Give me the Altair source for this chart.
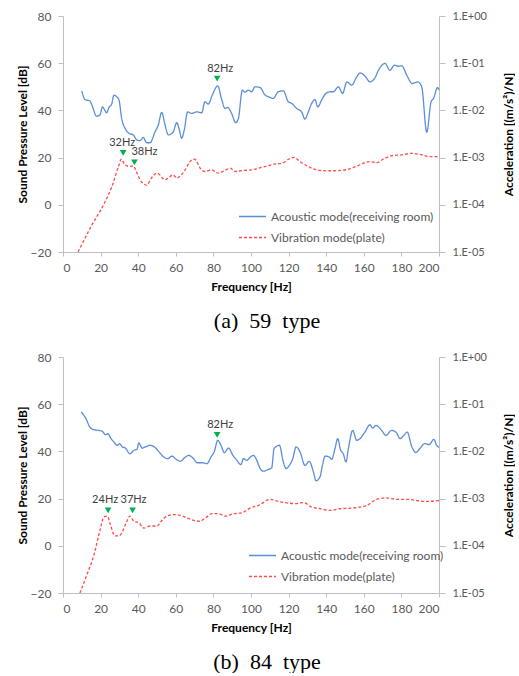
import altair as alt
import pandas as pd

# ---------------- (a) 59 type ----------------
a_ac_freq = [10, 11.7, 14.3, 15.5, 17.8, 19.6, 21, 22.3, 23.2, 24.5, 25.9, 27.1, 28.6, 29.8,
             31.2, 33, 35.1, 37.4, 39.2, 41, 42.7, 44.5, 46.3, 49, 50.7, 52.5, 54.3, 56, 58.7,
             60.5, 61.7, 63.1, 64.5, 66.3, 68.4, 71.1, 73.8, 75.5, 77.3, 79.4, 82.3, 84.4, 86.2,
             87.6, 89.7, 91.9, 93.3, 95.4, 96.8, 98.6, 100.4, 102.1, 104.8, 107.5, 109.2, 111.8,
             114.5, 117.2, 119.8, 121.6, 124.3, 126.9, 128.7, 130.5, 132.3, 134, 135.5, 137.6,
             139.4, 142.1, 143.8, 146.5, 148.7, 151, 153.6, 156.2, 158, 160.7, 163.3, 166, 167.8,
             171.3, 173.9, 176.3, 178.4, 180.2, 182.8, 185.8, 188.7, 190.8, 193.5, 195.8, 197.1,
             199.2, 200]
a_ac_spl = [48.3, 44.6, 44, 42, 37.6, 38, 41.5, 40, 39, 41.3, 42.7, 46.5, 45.8, 44.4,
            36.6, 32.4, 30.3, 29.6, 27.5, 27.2, 28.5, 26.3, 26.3, 31, 33.8, 39.2, 33.8, 29.6, 31,
            34.8, 32.4, 28.2, 31.7, 39.4, 38.7, 39.4, 39, 43.7, 42.7, 46.5, 50.4, 44.6, 40.8,
            41.3, 38.7, 34.8, 36.6, 48.6, 47.7, 48.6, 47.9, 50, 49.7, 46.5, 45.8, 45.1,
            47.9, 48.3, 43.7, 43, 40.8, 39.4, 36.3, 39.4, 43, 44.6, 41.5, 44.4,
            46.8, 47.9, 47.9, 50, 47.2, 52.1, 50.7, 54.2, 55.9, 54.5, 52.1, 53.9, 57,
            59.9, 57, 59.2, 58.7, 58.9, 55, 51.4, 52.1, 50, 30.7, 43.7, 45.1,
            49.7, 48.6]
a_vib_freq = [8, 15, 22, 26, 29.5, 31, 33, 35.5, 37.5, 39, 41, 42.5, 44.5, 47, 50, 51.5, 54, 56,
              58.5, 60.5, 62, 65, 67.5, 70, 73, 75.5, 79, 82.5, 86, 89, 91.5, 95, 100.5, 104,
              107.5, 113, 116.5, 120, 123, 126, 130.5, 135, 140, 146.5, 152, 157, 163, 167,
              170.5, 175, 180, 185.5, 191, 194.5, 200]
a_vib_acc = [1.0e-5, 3.5e-5, 1.08e-4, 2.43e-4, 6.46e-4, 9.23e-4, 7.0e-4, 6.46e-4, 6.68e-4, 5.07e-4,
             3.39e-4, 2.88e-4, 2.60e-4, 3.67e-4, 4.68e-4, 4.32e-4, 3.39e-4, 3.67e-4, 4.32e-4, 3.67e-4,
             3.98e-4, 5.50e-4, 8.22e-4, 9.23e-4, 5.96e-4, 5.07e-4, 5.50e-4, 4.68e-4, 5.31e-4, 5.96e-4,
             5.07e-4, 5.31e-4, 5.50e-4, 5.96e-4, 6.46e-4, 7.33e-4, 7.59e-4, 9.23e-4, 1.01e-3, 8.22e-4,
             6.46e-4, 5.50e-4, 5.25e-4, 5.31e-4, 5.69e-4, 6.76e-4, 8.22e-4, 7.85e-4, 9.33e-4, 1.10e-3,
             1.14e-3, 1.23e-3, 1.14e-3, 1.05e-3, 1.05e-3]
a_peak_freq = [32, 38, 82]
a_peak_level = [22, 18, 53.5]
a_peak_text = ["32Hz", "38Hz", "82Hz"]

# ---------------- (b) 84 type ----------------
b_ac_freq = [9.7, 12, 14.3, 16.4, 19.1, 20.9, 22.6, 24, 25.3, 27, 28.8, 30.2, 31.5, 33.2, 35.6,
             37.7, 39.4, 40.3, 42.1, 43.8, 46.5, 48.6, 50.9, 53.6, 55.7, 58, 59.8, 62.4, 65.1,
             66.8, 69.5, 71.3, 73.9, 76.6, 78.7, 80.5, 82.3, 84, 85.8, 88.1, 90.4, 92.5, 94.6,
             96, 97.8, 99.6, 101.3, 103.1, 104.9, 106.6, 109.3, 111, 112.3, 115.1, 117.2, 118.7,
             120.4, 122.2, 124, 126.1, 128.7, 131, 133.2, 134.6, 136.7, 138, 139.4, 141.7, 142.9,
             144.7, 146.1, 147.7, 149.1, 150.5, 151.8, 154.1, 156.2, 158, 160.6, 163.3, 164.7,
             166.5, 169.5, 171.8, 174.8, 177.4, 179.2, 181.3, 183.1, 185.4, 187.7, 189.8, 192.4,
             194.8, 197.3, 198.7, 200]
b_ac_spl = [56.7, 54.2, 50.3, 49.2, 48.9, 48.5, 47.1, 47.5, 45.7, 44, 42.6, 43.3, 41.9, 41.4, 39,
            40.5, 40.9, 43.6, 41.4, 41.9, 42.6, 41.9, 40, 37.6, 36.9, 38, 36.9, 35.8, 37.6,
            38.3, 36.9, 35.2, 35.2, 34.8, 37.6, 40, 44.7, 42.6, 39.5, 41.4, 38.3, 36.2, 34.4,
            36.9, 36.2, 37.6, 38.3, 36.2, 32.7, 31.6, 32.4, 33, 41.2, 42.6, 35.5, 32.7,
            34.1, 36.9, 41.9, 39.8, 34.1, 35.8, 31.3, 27.5, 29.2, 34.1, 38, 37.6, 36.6,
            41.2, 45.4, 40.5, 39, 35.5, 41.2, 48.9, 44.7, 45.4, 48.2, 51.3, 49.9,
            51, 48.9, 46.8, 48.9, 47.9, 45.4, 46.8, 48.2, 42.3, 39.5, 41.2, 43.3,
            42.9, 45.1, 42.6, 41.7]
b_vib_freq = [9, 12.6, 16.4, 19.9, 21.7, 23.5, 25.3, 27.6, 29.7, 31.5, 33.8, 35.6, 37.7, 40.3, 43,
              46.5, 50, 52.7, 55.3, 58.9, 62.4, 66, 69.5, 72.7, 75.7, 79.2, 82.8, 86.3, 90.7,
              95.1, 99.6, 104, 110.2, 114.6, 119, 123.5, 127.9, 132.3, 136.7, 142, 147.3, 154.4,
              161.5, 166.8, 172.1, 177.4, 182.7, 188, 193.3, 200]
b_vib_acc = [1.0e-5, 2.37e-5, 6.31e-5, 2.32e-4, 4.07e-4, 4.27e-4, 2.72e-4, 1.62e-4, 1.62e-4, 1.95e-4,
             3.20e-4, 4.27e-4, 3.31e-4, 3.09e-4, 2.37e-4, 2.63e-4, 2.63e-4, 3.47e-4, 4.27e-4, 4.57e-4,
             4.42e-4, 3.89e-4, 3.47e-4, 3.31e-4, 3.89e-4, 4.79e-4, 4.79e-4, 4.27e-4, 4.79e-4,
             5.01e-4, 6.31e-4, 7.16e-4, 9.66e-4, 8.71e-4, 8.13e-4, 7.85e-4, 8.22e-4, 6.61e-4, 6.10e-4,
             5.62e-4, 6.10e-4, 6.31e-4, 7.16e-4, 9.66e-4, 1.035e-3, 9.66e-4, 9.66e-4, 9.12e-4, 8.71e-4,
             9.12e-4]
b_peak_freq = [24, 37, 82]
b_peak_level = [15, 15, 47]
b_peak_text = ["24Hz", "37Hz", "82Hz"]

SERIES = ["Acoustic mode(receiving room)", "Vibration mode(plate)"]
DB_TICKS = [-20, 0, 20, 40, 60, 80]
ACC_TICKS = [1e-5, 1e-4, 1e-3, 1e-2, 1e-1, 1.0]
FREQ_TICKS = list(range(0, 201, 20))

BLUE = "#5B8ED6"
RED = "#FF4B4B"
GREEN = "#00B050"
GRID = "#BFBFBF"
LABEL = "#595959"
FONT = "Lato"

W, H = 376, 236


def panel(ac_f, ac_v, vib_f, vib_v, pk_f, pk_v, pk_t, label_dx, caption, leg_x, leg_y):
    ac = pd.DataFrame({"f": ac_f, "v": ac_v, "series": SERIES[0]})
    vib = pd.DataFrame({"f": vib_f, "v": vib_v, "series": SERIES[1]})
    pk = pd.DataFrame({"f": pk_f, "v": pk_v, "txt": pk_t})

    x = alt.X("f:Q", scale=alt.Scale(domain=[0, 200], nice=False),
              axis=alt.Axis(values=FREQ_TICKS, title="Frequency [Hz]", format="d",
                            tickSize=4, labelPadding=6, titlePadding=8))
    db_scale = alt.Scale(domain=[-20, 80], nice=False, zero=False)

    legend = alt.Legend(title=None, orient="none", legendX=leg_x, legendY=leg_y,
                        symbolType="stroke", symbolSize=729, symbolStrokeWidth=1.3,
                        labelFont=FONT, labelFontSize=12, labelColor=LABEL, labelLimit=300,
                        rowPadding=0, labelOffset=4, padding=0)
    color = alt.Color("series:N", scale=alt.Scale(domain=SERIES, range=[BLUE, RED]), legend=legend)
    dash = alt.StrokeDash("series:N", scale=alt.Scale(domain=SERIES, range=[[1, 0], [3, 2]]),
                          legend=legend)

    ac_line = alt.Chart(ac).mark_line(strokeWidth=1.3, interpolate="monotone").encode(
        x=x,
        y=alt.Y("v:Q", scale=db_scale,
                axis=alt.Axis(values=DB_TICKS, orient="left", title="Sound Pressure Level [dB]",
                              titlePadding=1)),
        color=color, strokeDash=dash,
    )
    vib_line = alt.Chart(vib).mark_line(strokeWidth=1.3, interpolate="monotone", clip=True).encode(
        x=x,
        y=alt.Y("v:Q", scale=alt.Scale(type="log", domain=[1e-5, 1], nice=False),
                axis=alt.Axis(values=ACC_TICKS, orient="right", title="Acceleration [(m/s²)/N]",
                              titleAngle=270, titleBaseline="top", titlePadding=17, tickSize=6,
                              labelFontSize=11,
                              labelExpr="'1.E' + (datum.value >= 0.999 ? '+' : '-') + '0' + "
                                        "abs(round(log(datum.value) / LN10))")),
        color=color, strokeDash=dash,
    )
    marks = alt.Chart(pk).mark_point(shape="triangle-down", filled=True, color=GREEN,
                                     size=45, opacity=1).encode(
        x=x, y=alt.Y("v:Q", scale=db_scale, axis=None))

    labels = []
    for i, txt in enumerate(pk_t):
        labels.append(
            alt.Chart(pk).transform_filter(alt.datum.txt == txt)
            .mark_text(font=FONT, fontSize=11, color="#404040", dy=-10, dx=label_dx[i])
            .encode(x=x, y=alt.Y("v:Q", scale=db_scale, axis=None), text="txt:N")
        )

    return alt.layer(ac_line, vib_line, marks, *labels).resolve_scale(y="independent").properties(
        width=W, height=H,
        title=alt.TitleParams(caption, orient="bottom", font="Liberation Serif", fontSize=22,
                              fontWeight="normal", color="black", anchor="middle", dx=16,
                              offset=19),
    )


top = panel(a_ac_freq, a_ac_spl, a_vib_freq, a_vib_acc, a_peak_freq, a_peak_level, a_peak_text,
            [-1, 10, 3], "(a)\u00a0\u00a059\u00a0\u00a0type", 175, 186)
bottom = panel(b_ac_freq, b_ac_spl, b_vib_freq, b_vib_acc, b_peak_freq, b_peak_level, b_peak_text,
               [-3, 1, 3], "(b)\u00a0\u00a084\u00a0\u00a0type", 185, 184)

chart = alt.vconcat(top, bottom, spacing=19).resolve_scale(
    color="independent", strokeDash="independent"
).resolve_legend(color="independent", strokeDash="independent").properties(
    padding={"left": 16, "top": 10, "right": 0, "bottom": 0}
).configure_view(stroke=None).configure_axis(
    grid=False, domainColor=GRID, tickColor=GRID, tickSize=5, labelPadding=7,
    labelFont=FONT, labelFontSize=12, labelColor=LABEL,
    titleFont=FONT, titleFontSize=12, titleFontWeight="bold", titleColor="black",
)

chart.save("out.html", embed_options={"renderer": "svg", "actions": False})
